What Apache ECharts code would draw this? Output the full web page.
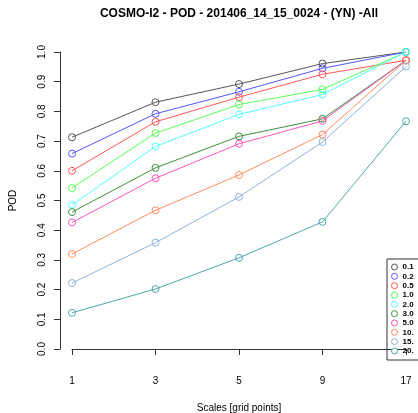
<!DOCTYPE html>
<html>
<head>
<meta charset="utf-8">
<script src="https://cdn.jsdelivr.net/npm/echarts@6/dist/echarts.min.js"></script>
<style>
  html, body { margin: 0; padding: 0; background: #fff; }
  #chart { width: 418px; height: 413px; }
</style>
</head>
<body>
<div id="chart"></div>
<script>
// scales on the x axis
const scales = ['1', '3', '5', '9', '17'];

// POD values, one list per threshold
const t01 = [0.713, 0.831, 0.892, 0.961, 1.0];
const t02 = [0.658, 0.792, 0.866, 0.945, 1.0];
const t05 = [0.600, 0.765, 0.848, 0.925, 0.972];
const t10 = [0.542, 0.727, 0.823, 0.874, 1.0];
const t20 = [0.485, 0.682, 0.790, 0.857, 1.0];
const t30 = [0.461, 0.610, 0.716, 0.775, 0.972];
const t50 = [0.426, 0.575, 0.691, 0.768, 0.972];
const t100 = [0.320, 0.467, 0.586, 0.722, 0.972];
const t150 = [0.222, 0.358, 0.512, 0.697, 0.951];
const t200 = [0.122, 0.202, 0.307, 0.428, 0.767];

const names = ['0.1', '0.2', '0.5', '1.0', '2.0', '3.0', '5.0', '10.', '15.', '20.'];
const values = [t01, t02, t05, t10, t20, t30, t50, t100, t150, t200];
const colors = ['#555555', '#5555ff', '#ff5555', '#55ff55', '#55ffff',
                '#3d8f3d', '#ff55b8', '#ff8a5c', '#8fb2d8', '#4aa8a8'];

const chart = echarts.init(document.getElementById('chart'));

const option = {
    animation: false,
    title: {
        text: 'COSMO-I2 - POD - 201406_14_15_0024 - (YN) -All',
        left: 234,
        top: 3,
        textAlign: 'center',
        textStyle: { fontFamily: 'Liberation Sans', fontSize: 12, fontWeight: 'bold', color: '#000' }
    },
    grid: { left: 72, right: 12, top: 52, bottom: 64, containLabel: false, outerBoundsMode: 'none' },
    legend: {
        orient: 'vertical',
        left: 391,
        top: 263,
        itemWidth: 6,
        itemHeight: 6,
        itemGap: 1.33,
        padding: 0,
        data: names.map((n, i) => ({
            name: n,
            icon: 'circle',
            itemStyle: { color: '#fff', borderColor: colors[i], borderWidth: 1 }
        })),
        textStyle: {
            fontFamily: 'Liberation Sans', fontSize: 8, fontWeight: 'bold', color: '#000',
            lineHeight: 8, padding: [0, 0, 0, 0]
        }
    },
    xAxis: {
        type: 'category',
        data: scales,
        boundaryGap: false,
        offset: 12,
        name: 'Scales [grid points]',
        nameLocation: 'middle',
        nameGap: 42,
        nameTextStyle: { fontFamily: 'Liberation Sans', fontSize: 10, color: '#000' },
        axisLine: { lineStyle: { color: '#333' } },
        axisTick: { length: 6, alignWithLabel: true, lineStyle: { color: '#333' } },
        axisLabel: { margin: 15, fontFamily: 'Liberation Sans', fontSize: 10, color: '#000' },
        splitLine: { show: false }
    },
    yAxis: {
        type: 'value',
        min: 0,
        max: 1,
        interval: 0.1,
        offset: 12,
        name: 'POD',
        nameLocation: 'middle',
        nameGap: 42,
        nameTextStyle: { fontFamily: 'Liberation Sans', fontSize: 10, color: '#000' },
        axisLine: { show: true, lineStyle: { color: '#333' } },
        axisTick: { show: true, length: 6, lineStyle: { color: '#333' } },
        axisLabel: {
            rotate: 90,
            margin: 13,
            fontFamily: 'Liberation Sans',
            fontSize: 10,
            color: '#000',
            formatter: v => v.toFixed(1)
        },
        splitLine: { show: false }
    },
    graphic: [{
        type: 'rect',
        shape: { x: 387, y: 259, width: 40, height: 101 },
        style: { fill: 'none', stroke: '#333', lineWidth: 1 }
    }],
    series: names.map((n, i) => ({
        name: n,
        type: 'line',
        data: values[i],
        symbol: 'circle',
        symbolSize: 7,
        color: colors[i],
        lineStyle: { width: 1, color: colors[i] },
        itemStyle: { color: 'rgba(255,255,255,0)', borderColor: colors[i], borderWidth: 1 }
    }))
};

chart.setOption(option);
</script>
</body>
</html>
